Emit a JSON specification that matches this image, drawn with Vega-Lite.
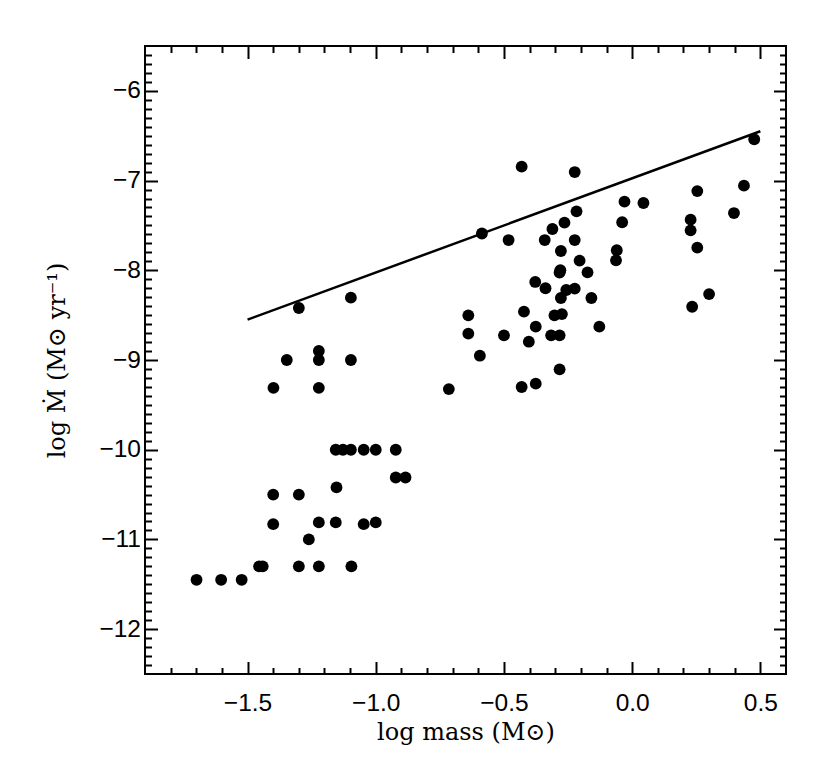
{
  "$schema": "https://vega.github.io/schema/vega-lite/v6.json",
  "autosize": "none",
  "padding": {"left": 145, "top": 46, "right": 44, "bottom": 93},
  "width": 641,
  "height": 628,
  "background": "white",
  "config": {"view": {"stroke": "black", "strokeWidth": 2}},
  "datasets": {
    "pts": [
      {"logm": -1.699, "mdot": -11.45}, {"logm": -1.603, "mdot": -11.45}, {"logm": -1.523, "mdot": -11.45},
      {"logm": -1.455, "mdot": -11.3}, {"logm": -1.441, "mdot": -11.3},
      {"logm": -1.40, "mdot": -10.5}, {"logm": -1.40, "mdot": -10.83}, {"logm": -1.30, "mdot": -10.5},
      {"logm": -1.30, "mdot": -11.3}, {"logm": -1.261, "mdot": -11.0},
      {"logm": -1.222, "mdot": -10.81}, {"logm": -1.222, "mdot": -11.3}, {"logm": -1.156, "mdot": -10.0},
      {"logm": -1.153, "mdot": -10.42}, {"logm": -1.156, "mdot": -10.81},
      {"logm": -1.128, "mdot": -10.0}, {"logm": -1.097, "mdot": -10.0}, {"logm": -1.095, "mdot": -11.3},
      {"logm": -1.047, "mdot": -10.0}, {"logm": -1.047, "mdot": -10.83},
      {"logm": -1.0, "mdot": -10.0}, {"logm": -1.0, "mdot": -10.81}, {"logm": -0.922, "mdot": -10.0},
      {"logm": -0.922, "mdot": -10.31}, {"logm": -0.884, "mdot": -10.31},
      {"logm": -1.30, "mdot": -8.42}, {"logm": -1.097, "mdot": -8.305}, {"logm": -1.347, "mdot": -9.0},
      {"logm": -1.222, "mdot": -8.90}, {"logm": -1.222, "mdot": -9.0}, {"logm": -1.097, "mdot": -9.0},
      {"logm": -1.399, "mdot": -9.31}, {"logm": -1.222, "mdot": -9.31},
      {"logm": -0.431, "mdot": -6.845}, {"logm": -0.224, "mdot": -6.905}, {"logm": 0.476, "mdot": -6.54},
      {"logm": 0.254, "mdot": -7.117}, {"logm": 0.436, "mdot": -7.057}, {"logm": -0.030, "mdot": -7.235},
      {"logm": 0.044, "mdot": -7.25}, {"logm": -0.217, "mdot": -7.343}, {"logm": 0.397, "mdot": -7.362},
      {"logm": 0.228, "mdot": -7.436}, {"logm": -0.039, "mdot": -7.465}, {"logm": -0.264, "mdot": -7.469},
      {"logm": -0.311, "mdot": -7.54}, {"logm": 0.228, "mdot": -7.555}, {"logm": -0.586, "mdot": -7.59},
      {"logm": -0.482, "mdot": -7.663}, {"logm": -0.341, "mdot": -7.663}, {"logm": -0.224, "mdot": -7.663},
      {"logm": 0.254, "mdot": -7.748}, {"logm": -0.278, "mdot": -7.785}, {"logm": -0.06, "mdot": -7.777},
      {"logm": -0.063, "mdot": -7.889}, {"logm": -0.205, "mdot": -7.893}, {"logm": -0.28, "mdot": -8.0},
      {"logm": -0.283, "mdot": -8.025}, {"logm": -0.174, "mdot": -8.023}, {"logm": -0.378, "mdot": -8.13},
      {"logm": -0.338, "mdot": -8.2}, {"logm": -0.257, "mdot": -8.22}, {"logm": -0.224, "mdot": -8.205},
      {"logm": -0.278, "mdot": -8.309}, {"logm": -0.159, "mdot": -8.309}, {"logm": 0.30, "mdot": -8.265},
      {"logm": 0.234, "mdot": -8.406}, {"logm": -0.639, "mdot": -8.502}, {"logm": -0.422, "mdot": -8.461},
      {"logm": -0.303, "mdot": -8.502}, {"logm": -0.274, "mdot": -8.488}, {"logm": -0.376, "mdot": -8.628},
      {"logm": -0.128, "mdot": -8.628}, {"logm": -0.639, "mdot": -8.706}, {"logm": -0.50, "mdot": -8.725},
      {"logm": -0.316, "mdot": -8.725}, {"logm": -0.283, "mdot": -8.725}, {"logm": -0.403, "mdot": -8.796},
      {"logm": -0.594, "mdot": -8.952}, {"logm": -0.283, "mdot": -9.104}, {"logm": -0.715, "mdot": -9.324},
      {"logm": -0.431, "mdot": -9.301}, {"logm": -0.376, "mdot": -9.264}
    ],
    "fit": [
      {"logm": -1.5, "mdot": -8.55},
      {"logm": 0.5, "mdot": -6.45}
    ]
  },
  "resolve": {"axis": {"x": "independent", "y": "independent"}},
  "layer": [
    {
      "data": {"name": "pts"},
      "mark": {"type": "circle", "size": 140, "color": "black", "opacity": 1},
      "encoding": {
        "x": {
          "field": "logm", "type": "quantitative",
          "scale": {"domain": [-1.9, 0.6], "nice": false, "zero": false},
          "axis": {
            "orient": "bottom", "values": [-1.5, -1, -0.5, 0, 0.5], "format": ".1f",
            "tickSize": -12.5, "tickWidth": 2, "tickColor": "black", "domain": false, "grid": false,
            "labelFont": "Liberation Sans", "labelFontSize": 24.5, "labelColor": "black",
            "labelPadding": 29.5, "labelFlush": false, "labelOverlap": false,
            "title": "log mass (M⊙)", "titleFont": "DejaVu Serif", "titleFontSize": 24,
            "titleFontWeight": "normal", "titleColor": "black", "titlePadding": 6
          }
        },
        "y": {
          "field": "mdot", "type": "quantitative",
          "scale": {"domain": [-12.5, -5.5], "nice": false, "zero": false},
          "axis": {
            "orient": "left", "values": [-12, -11, -10, -9, -8, -7, -6], "format": "d",
            "tickSize": -12.5, "tickWidth": 2, "tickColor": "black", "domain": false, "grid": false,
            "labelFont": "Liberation Sans", "labelFontSize": 24.5, "labelColor": "black",
            "labelPadding": 17, "labelFlush": false, "labelOverlap": false,
            "title": "log Ṁ (M⊙ yr⁻¹)", "titleFont": "DejaVu Serif", "titleFontSize": 24,
            "titleFontWeight": "normal", "titleColor": "black", "titlePadding": 29
          }
        }
      }
    },
    {
      "data": {"name": "fit"},
      "mark": {"type": "line", "color": "black", "strokeWidth": 2.5},
      "encoding": {
        "x": {
          "field": "logm", "type": "quantitative",
          "scale": {"domain": [-1.9, 0.6], "nice": false, "zero": false},
          "axis": {
            "orient": "bottom",
            "values": [-1.8, -1.7, -1.6, -1.4, -1.3, -1.2, -1.1, -0.9, -0.8, -0.7, -0.6, -0.4, -0.3, -0.2, -0.1, 0.1, 0.2, 0.3, 0.4],
            "tickSize": -6.5, "tickWidth": 2, "tickColor": "black", "domain": false, "grid": false,
            "labels": false, "title": null
          }
        },
        "y": {
          "field": "mdot", "type": "quantitative",
          "scale": {"domain": [-12.5, -5.5], "nice": false, "zero": false},
          "axis": {
            "orient": "left",
            "values": [-12.4, -12.3, -12.2, -12.1, -11.9, -11.8, -11.7, -11.6, -11.5, -11.4, -11.3, -11.2, -11.1, -10.9, -10.8, -10.7, -10.6, -10.5, -10.4, -10.3, -10.2, -10.1, -9.9, -9.8, -9.7, -9.6, -9.5, -9.4, -9.3, -9.2, -9.1, -8.9, -8.8, -8.7, -8.6, -8.5, -8.4, -8.3, -8.2, -8.1, -7.9, -7.8, -7.7, -7.6, -7.5, -7.4, -7.3, -7.2, -7.1, -6.9, -6.8, -6.7, -6.6, -6.5, -6.4, -6.3, -6.2, -6.1, -5.9, -5.8, -5.7, -5.6],
            "tickSize": -6.5, "tickWidth": 2, "tickColor": "black", "domain": false, "grid": false,
            "labels": false, "title": null
          }
        }
      }
    },
    {
      "data": {"name": "fit"},
      "mark": {"type": "circle", "opacity": 0},
      "encoding": {
        "x": {
          "field": "logm", "type": "quantitative",
          "scale": {"domain": [-1.9, 0.6], "nice": false, "zero": false},
          "axis": {
            "orient": "top", "values": [-1.5, -1, -0.5, 0, 0.5],
            "tickSize": -12.5, "tickWidth": 2, "tickColor": "black", "domain": false, "grid": false,
            "labels": false, "title": null
          }
        },
        "y": {
          "field": "mdot", "type": "quantitative",
          "scale": {"domain": [-12.5, -5.5], "nice": false, "zero": false},
          "axis": {
            "orient": "right", "values": [-12, -11, -10, -9, -8, -7, -6],
            "tickSize": -12.5, "tickWidth": 2, "tickColor": "black", "domain": false, "grid": false,
            "labels": false, "title": null
          }
        }
      }
    },
    {
      "data": {"name": "fit"},
      "mark": {"type": "circle", "opacity": 0},
      "encoding": {
        "x": {
          "field": "logm", "type": "quantitative",
          "scale": {"domain": [-1.9, 0.6], "nice": false, "zero": false},
          "axis": {
            "orient": "top",
            "values": [-1.8, -1.7, -1.6, -1.4, -1.3, -1.2, -1.1, -0.9, -0.8, -0.7, -0.6, -0.4, -0.3, -0.2, -0.1, 0.1, 0.2, 0.3, 0.4],
            "tickSize": -6.5, "tickWidth": 2, "tickColor": "black", "domain": false, "grid": false,
            "labels": false, "title": null
          }
        },
        "y": {
          "field": "mdot", "type": "quantitative",
          "scale": {"domain": [-12.5, -5.5], "nice": false, "zero": false},
          "axis": {
            "orient": "right",
            "values": [-12.4, -12.3, -12.2, -12.1, -11.9, -11.8, -11.7, -11.6, -11.5, -11.4, -11.3, -11.2, -11.1, -10.9, -10.8, -10.7, -10.6, -10.5, -10.4, -10.3, -10.2, -10.1, -9.9, -9.8, -9.7, -9.6, -9.5, -9.4, -9.3, -9.2, -9.1, -8.9, -8.8, -8.7, -8.6, -8.5, -8.4, -8.3, -8.2, -8.1, -7.9, -7.8, -7.7, -7.6, -7.5, -7.4, -7.3, -7.2, -7.1, -6.9, -6.8, -6.7, -6.6, -6.5, -6.4, -6.3, -6.2, -6.1, -5.9, -5.8, -5.7, -5.6],
            "tickSize": -6.5, "tickWidth": 2, "tickColor": "black", "domain": false, "grid": false,
            "labels": false, "title": null
          }
        }
      }
    }
  ]
}
